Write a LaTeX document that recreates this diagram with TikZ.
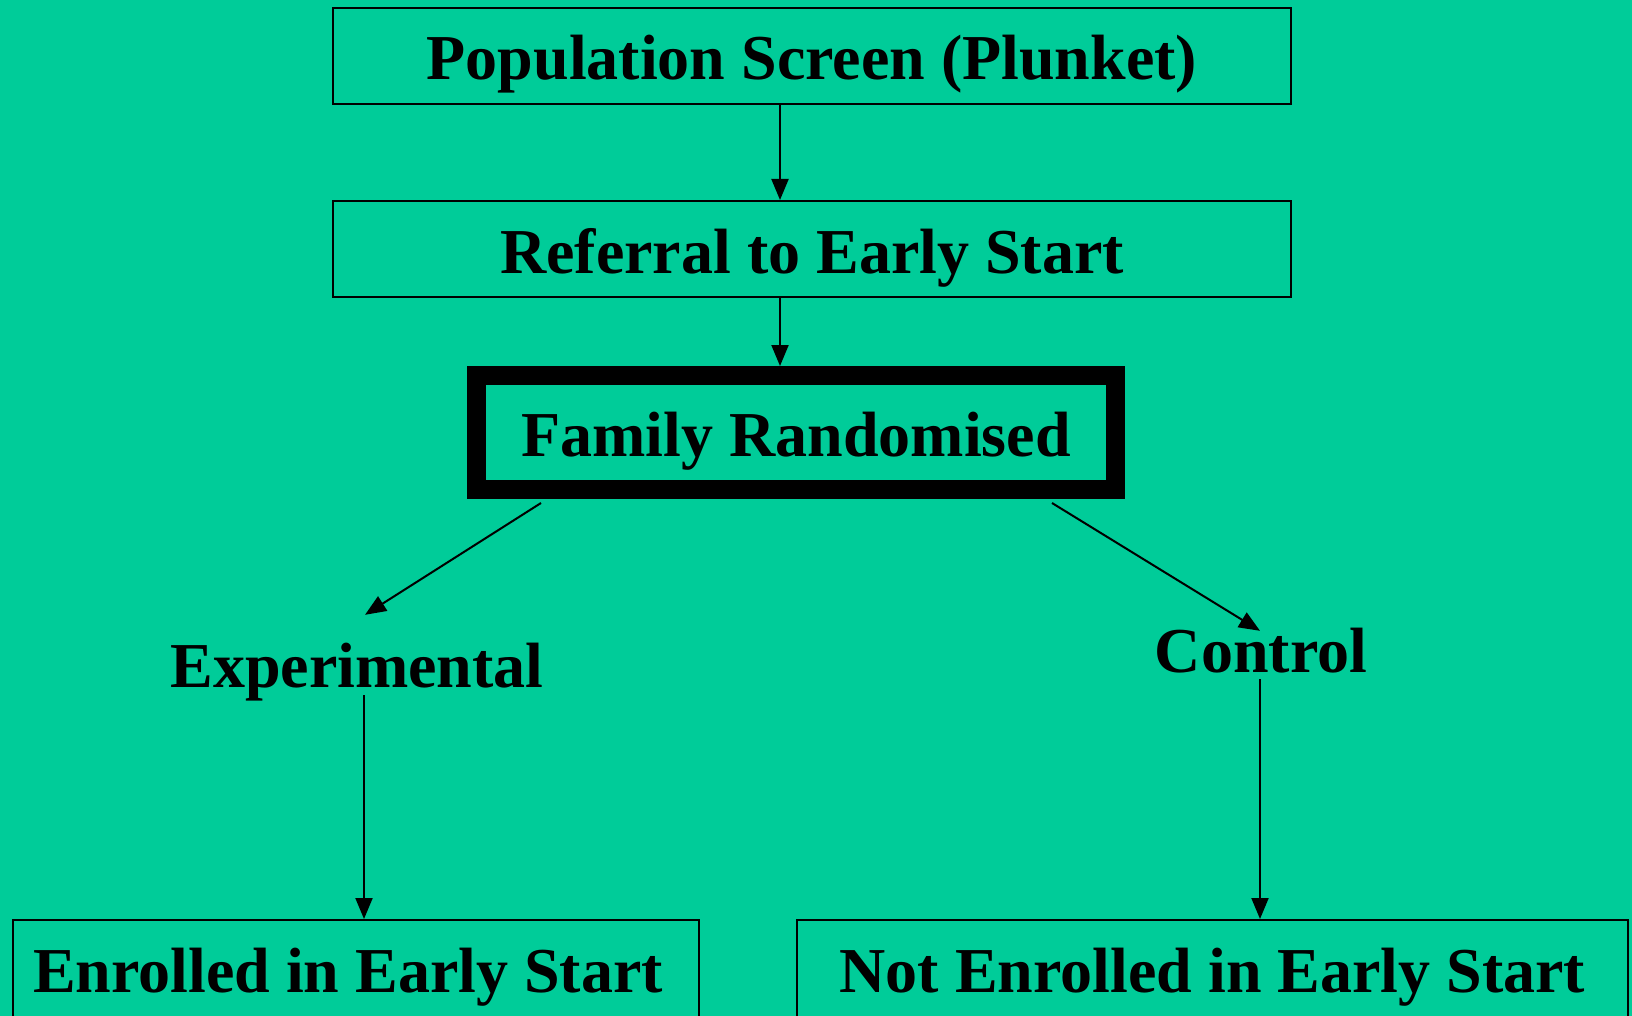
\documentclass[tikz,border=0pt]{standalone}
\usepackage{fontspec}
\setmainfont{Liberation Serif}
\usetikzlibrary{arrows.meta}
\definecolor{bg}{RGB}{0,204,153}
\begin{document}
\begin{tikzpicture}[x=1pt,y=-1pt,
  box/.style={draw=black, line width=2pt, fill=bg, inner sep=0pt,
    text height=60pt, text depth=12pt,
    font=\fontsize{64}{70}\selectfont\bfseries},
  lowbox/.style={box, text depth=26pt, minimum height=110pt},
  lbl/.style={inner sep=0pt, text height=44pt, text depth=14pt,
    font=\fontsize{64}{70}\selectfont\bfseries},
  arr/.style={line width=2pt, -{Triangle[length=21pt,width=17pt]}}]
\path[use as bounding box, fill=bg] (0,0) rectangle (1632,1016);
\begin{scope}
\clip (0,0) rectangle (1632,1016);
\node[box, minimum width=958pt, minimum height=96pt] (pop) at (812,56) {Population Screen (Plunket)};
\node[box, minimum width=958pt, minimum height=96pt] (ref) at (812,249) {Referral to Early Start};
\node[box, line width=19pt, minimum width=639pt, minimum height=114pt] (fam) at (796,432.5) {Family Randomised};
\node[lbl, anchor=base] (exp) at (357,687) {Experimental};
\node[lbl, anchor=base] (ctl) at (1261,672) {Control};
\node[lowbox, minimum width=686pt] (enr) at (356,975) {Enrolled in Early Start\hspace*{16pt}};
\node[lowbox, minimum width=831pt] (nenr) at (1212.5,975) {Not Enrolled in Early Start};

\draw[arr] ([xshift=-32pt]pop.south) -- ([xshift=-32pt]ref.north);
\draw[arr] ([xshift=-32pt]ref.south) -- ([xshift=-16pt]fam.north);
\draw[arr] ([xshift=74pt,yshift=-4pt]fam.south west) -- ([xshift=8pt,yshift=28pt]exp.north);
\draw[arr] ([xshift=-73pt,yshift=-4pt]fam.south east) -- ([xshift=-1pt,yshift=-3pt]ctl.north);
\draw[arr] ([xshift=7pt,yshift=6pt]exp.south) -- ([xshift=8pt]enr.north);
\draw[arr] ([xshift=-1pt,yshift=7pt]ctl.south) -- ([xshift=47.5pt]nenr.north);
\end{scope}
\end{tikzpicture}
\end{document}
